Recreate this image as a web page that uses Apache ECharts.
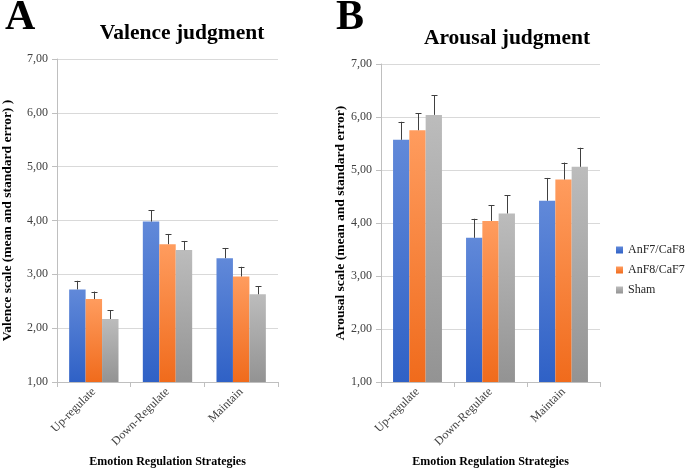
<!DOCTYPE html>
<html>
<head>
<meta charset="utf-8">
<script src="https://cdn.jsdelivr.net/npm/echarts@6/dist/echarts.min.js"></script>
<style>
html,body{margin:0;padding:0;background:#fff;}
#chart{width:685px;height:473px;}
</style>
</head>
<body>
<div id="chart"></div>
<script>
// ---- Data ----
const categories = ['Up-regulate', 'Down-Regulate', 'Maintain'];
const seriesNames = ['AnF7/CaF8', 'AnF8/CaF7', 'Sham'];
const yTicks = [1, 7, 1]; // min, max, interval

const valenceAnF7 = [2.72, 3.98, 3.30];
const valenceAnF8 = [2.54, 3.56, 2.96];
const valenceSham = [2.17, 3.45, 2.63];
const valenceErrAnF7 = [0.16, 0.21, 0.19];
const valenceErrAnF8 = [0.14, 0.19, 0.18];
const valenceErrSham = [0.16, 0.17, 0.15];

const arousalAnF7 = [5.57, 3.72, 4.42];
const arousalAnF8 = [5.75, 4.04, 4.82];
const arousalSham = [6.04, 4.18, 5.06];
const arousalErrAnF7 = [0.34, 0.36, 0.43];
const arousalErrAnF8 = [0.32, 0.30, 0.32];
const arousalErrSham = [0.37, 0.34, 0.36];

// ---- Styling ----
const SERIF = '"Liberation Serif", "Times New Roman", serif';
const grad = (top, bottom) => ({
  type: 'linear', x: 0, y: 0, x2: 0, y2: 1,
  colorStops: [{offset: 0, color: top}, {offset: 1, color: bottom}]
});
const colors = [
  grad('#6189d9', '#2f61c6'),
  grad('#ff9c5e', '#f06b1c'),
  grad('#bcbcbc', '#939393')
];
const BAR_GAP_CAT = 0.33;

const chart = echarts.init(document.getElementById('chart'), null, {renderer: 'canvas'});

const fmt = v => v.toFixed(2).replace('.', ',');

function makeXAxis(gi) {
  return {
    type: 'category', gridIndex: gi, data: categories,
    name: 'Emotion Regulation Strategies', nameLocation: 'middle', nameGap: 74,
    nameTextStyle: {fontFamily: SERIF, fontWeight: 'bold', fontSize: 12, color: '#000'},
    axisLine: {lineStyle: {color: '#bfbfbf'}},
    axisTick: {show: true, length: 5, lineStyle: {color: '#bfbfbf'}},
    axisLabel: {rotate: 45, fontFamily: SERIF, fontSize: 12, color: '#404040', margin: 8}
  };
}
function makeYAxis(gi, name, gap) {
  return {
    type: 'value', gridIndex: gi, min: yTicks[0], max: yTicks[1], interval: yTicks[2],
    name: name, nameLocation: 'middle', nameRotate: 90, nameGap: gap,
    nameTextStyle: {fontFamily: SERIF, fontWeight: 'bold', fontSize: 13.5, color: '#000'},
    axisLine: {show: true, lineStyle: {color: '#bfbfbf'}},
    axisTick: {show: true, length: 5, lineStyle: {color: '#bfbfbf'}},
    axisLabel: {formatter: fmt, fontFamily: SERIF, fontSize: 12, color: '#404040', margin: 9},
    splitLine: {lineStyle: {color: '#d9d9d9'}}
  };
}

function barSeries(name, data, gi, idx) {
  return {
    type: 'bar', name: name, xAxisIndex: gi, yAxisIndex: gi, data: data,
    barGap: '0%', barCategoryGap: (BAR_GAP_CAT * 100) + '%',
    itemStyle: {color: colors[idx]}, z: 2
  };
}
function errSeries(name, vals, errs, gi, idx) {
  return {
    type: 'custom', name: name, xAxisIndex: gi, yAxisIndex: gi,
    data: vals.map((v, i) => [i, v, errs[i]]),
    encode: {x: 0, y: 1},
    z: 5, silent: true,
    renderItem: function (params, api) {
      const x = api.value(0), v = api.value(1), e = api.value(2);
      const band = api.size([1, 0])[0];
      const bw = band * (1 - BAR_GAP_CAT) / 3;
      const off = (idx - 1) * bw;
      const p0 = api.coord([x, v]);
      const p1 = api.coord([x, v + e]);
      const cx = Math.round(p0[0] + off) + 0.5;
      const st = {stroke: '#404040', lineWidth: 1};
      return {
        type: 'group',
        children: [
          {type: 'line', shape: {x1: cx, y1: p0[1], x2: cx, y2: p1[1]}, style: st},
          {type: 'line', shape: {x1: cx - 3, y1: Math.round(p1[1]) + 0.5, x2: cx + 3, y2: Math.round(p1[1]) + 0.5}, style: st}
        ]
      };
    }
  };
}

const valSets = [[valenceAnF7, valenceAnF8, valenceSham], [arousalAnF7, arousalAnF8, arousalSham]];
const errSets = [[valenceErrAnF7, valenceErrAnF8, valenceErrSham], [arousalErrAnF7, arousalErrAnF8, arousalErrSham]];
const series = [];
for (let g = 0; g < 2; g++) {
  for (let s = 0; s < 3; s++) series.push(barSeries(seriesNames[s], valSets[g][s], g, s));
  for (let s = 0; s < 3; s++) series.push(errSeries(seriesNames[s] + ' err' + g, valSets[g][s], errSets[g][s], g, s));
}

const option = {
  backgroundColor: '#fff',
  animation: false,
  grid: [
    {left: 53, top: 59, width: 225, height: 324},
    {left: 381, top: 64, width: 219, height: 322}
  ],
  xAxis: [makeXAxis(0), makeXAxis(1)],
  yAxis: [
    makeYAxis(0, 'Valence scale (mean and standard error) )', 42),
    makeYAxis(1, 'Arousal scale (mean and standard error)', 31)
  ],
  legend: {
    data: seriesNames.map((n, i) => ({name: n, itemStyle: {color: colors[i]}})),
    orient: 'vertical', left: 616, top: 244, padding: 0,
    itemWidth: 7, itemHeight: 7, itemGap: 8, icon: 'rect',
    textStyle: {fontFamily: SERIF, fontSize: 12, color: '#262626'}
  },
  graphic: [
    {type: 'text', left: 5, top: -3, style: {text: 'A', font: 'bold 42px ' + SERIF, fill: '#000'}},
    {type: 'text', left: 336, top: -3, style: {text: 'B', font: 'bold 42px ' + SERIF, fill: '#000'}},
    {type: 'text', x: 182, y: 33, style: {text: 'Valence judgment', font: 'bold 21.5px ' + SERIF, fill: '#000', textAlign: 'center', textVerticalAlign: 'middle'}},
    {type: 'text', x: 507, y: 38, style: {text: 'Arousal judgment', font: 'bold 21.5px ' + SERIF, fill: '#000', textAlign: 'center', textVerticalAlign: 'middle'}}
  ],
  series: series
};
chart.setOption(option);
</script>
</body>
</html>
